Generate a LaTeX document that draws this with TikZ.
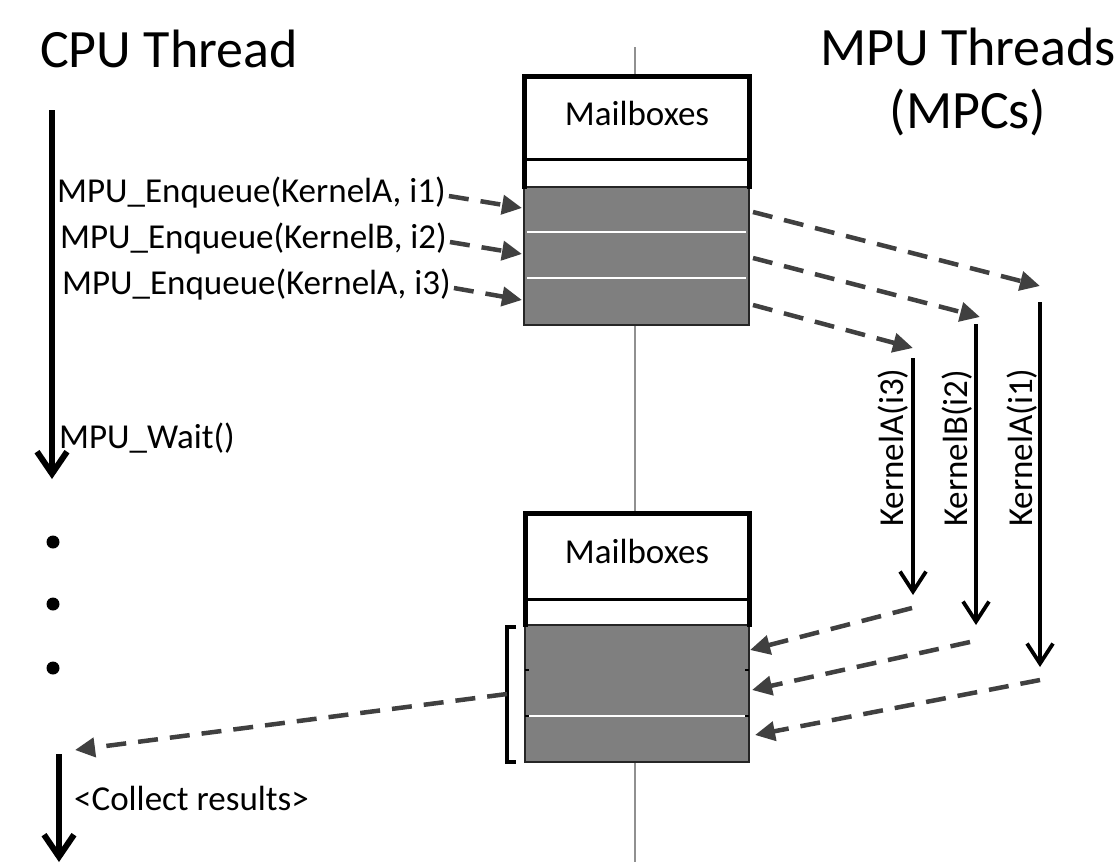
\documentclass[tikz,border=0pt]{standalone}
\usepackage{fontspec}
\setmainfont{Carlito}
\usetikzlibrary{arrows.meta}
\definecolor{dgray}{HTML}{404040}
\definecolor{boxgray}{HTML}{7F7F7F}
\definecolor{lgray}{HTML}{909090}
\begin{document}
\begin{tikzpicture}[x=1pt,y=-1pt,
  big/.style={font=\fontsize{54}{63}\selectfont, inner sep=0},
  small/.style={font=\fontsize{35}{40}\selectfont, inner sep=0},
  dasharrow/.style={draw=dgray, line width=4.5pt, dash pattern=on 20pt off 12pt,
    -{Triangle[length=20pt,width=19pt]}},
  cpuarrow/.style={line width=6pt, -{Straight Barb[length=22pt,width=30pt]}},
  kernarrow/.style={line width=3.8pt, -{Straight Barb[length=20pt,width=26pt]}},
  slotline/.style={white, line width=1.2pt},
  thickborder/.style={line width=5pt, line join=miter},
]
\useasboundingbox (0,0) rectangle (1118,862);
\fill[white] (0,0) rectangle (1118,862);

% titles
\node[big, anchor=base west] (cpu) at (40,67) {CPU Thread};
\node[big, anchor=base] (mpu1) at (968,65) {MPU Threads};
\node[big, anchor=base] (mpu2) at (968,128) {(MPCs)};

% centre line
\coordinate (ctop) at (635,47);
\coordinate (cbot) at (635,862);
\draw[lgray, line width=2.5pt] (ctop) -- (cbot);

% top mailbox
\fill[white] (524,76) rectangle (749,187);
\fill[boxgray] (524,187) rectangle (749,325);
\draw[line width=1.5pt, black!85] (524,187) rectangle (749,325);
\draw[slotline] (527,232) -- (746,232);
\draw[slotline] (527,278) -- (746,278);
\draw[thickborder] (524,189) -- (524,76) -- (749,76) -- (749,189);
\draw[line width=3pt] (524,159) -- (749,159);
\node[small, anchor=base] (mbA) at (637,125) {Mailboxes};

% bottom mailbox
\fill[white] (525,513) rectangle (749,625);
\fill[boxgray] (525,625) rectangle (749,762);
\draw[line width=1.5pt, black!85] (525,625) rectangle (749,762);
\draw[line width=1.5pt] (525,670) -- (529,670) (745,670) -- (749,670);
\draw[slotline] (529,716) -- (745,716);
\draw[line width=1.5pt] (525,716) -- (529,716) (745,716) -- (749,716);
\draw[thickborder] (525,627) -- (525,513) -- (749,513) -- (749,627);
\draw[line width=3pt] (525,599) -- (749,599);
\node[small, anchor=base] (mbB) at (637,563) {Mailboxes};

% bracket
\coordinate (brnub) at (507,694);
\draw[line width=3.5pt, line join=miter] (516,627) -- (507,627) -- (507,762) -- (516,762);

% CPU thread
\coordinate (cpuS) at (52,110);
\coordinate (cpuE) at (52,479);
\draw[cpuarrow] (cpuS) -- (cpuE);
\fill (53,542) circle (6.5pt);
\fill (53,604) circle (6.5pt);
\fill (53,668) circle (6.5pt);
\coordinate (cpu2S) at (59,754);
\coordinate (cpu2E) at (59,862);
\draw[cpuarrow] (cpu2S) -- (cpu2E);

\node[small, anchor=base west] (enq1) at (57,202) {MPU\_Enqueue(KernelA, i1)};
\node[small, anchor=base west] (enq2) at (60,248) {MPU\_Enqueue(KernelB, i2)};
\node[small, anchor=base west] (enq3) at (62,294) {MPU\_Enqueue(KernelA, i3)};
\node[small, anchor=base west] (wait) at (59,448) {MPU\_Wait()};
\node[small, anchor=base west] (collect) at (74,810) {<Collect results>};

% enqueue arrows
\coordinate (in1) at (522,208);
\coordinate (in2) at (522,254);
\coordinate (in3) at (522,300);
\draw[dasharrow] ([xshift=3pt,yshift=-4pt]enq1.east) -- (in1);
\draw[dasharrow] ([xshift=3pt,yshift=-4pt]enq2.east) -- (in2);
\draw[dasharrow] ([xshift=3pt,yshift=-4pt]enq3.east) -- (in3);

% to MPU threads
\coordinate (out1) at (753,212);
\coordinate (out2) at (753,258);
\coordinate (out3) at (753,305);
\coordinate (k1top) at (1040,302);
\coordinate (k2top) at (976,324);
\coordinate (k3top) at (913,358);
\coordinate (k1bot) at (1040,667);
\coordinate (k2bot) at (976,625);
\coordinate (k3bot) at (913,595);
\draw[dasharrow] (out1) -- (1040,286);
\draw[dasharrow] (out2) -- (980,317);
\draw[dasharrow] (out3) -- (913,348);

\draw[kernarrow] (k3top) -- (k3bot);
\draw[kernarrow] (k2top) -- (k2bot);
\draw[kernarrow] (k1top) -- (k1bot);
\node[small, rotate=90, anchor=base west] (lk3) at (903,527) {KernelA(i3)};
\node[small, rotate=90, anchor=base west] (lk2) at (967,527) {KernelB(i2)};
\node[small, rotate=90, anchor=base west] (lk1) at (1032,527) {KernelA(i1)};

% returns
\coordinate (ret3) at (912,608);
\coordinate (ret2) at (970,642);
\coordinate (ret1) at (1040,680);
\coordinate (back3) at (750,650);
\coordinate (back2) at (752,690);
\coordinate (back1) at (755,735);
\draw[dasharrow] (ret3) -- (back3);
\draw[dasharrow] (ret2) -- (back2);
\draw[dasharrow] (ret1) -- (back1);

\coordinate (res) at (75,750);
\draw[dasharrow] (brnub) -- (res);
\end{tikzpicture}
\end{document}
